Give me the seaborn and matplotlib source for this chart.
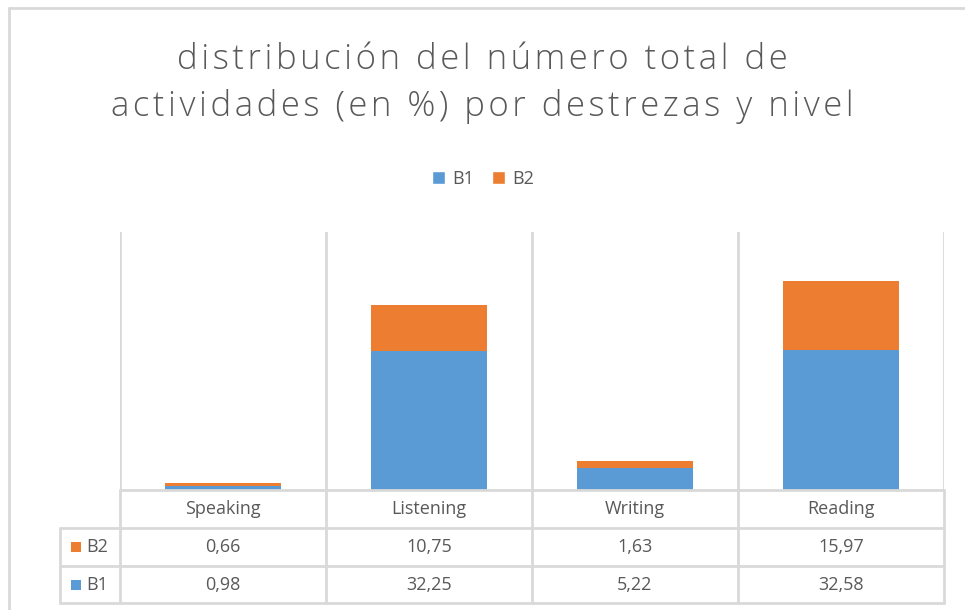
import numpy as np
import pandas as pd
import seaborn as sns
import matplotlib.pyplot as plt
from matplotlib.lines import Line2D
from matplotlib.patches import Rectangle

# data
destrezas = ['Speaking', 'Listening', 'Writing', 'Reading']
b1 = [0.98, 32.25, 5.22, 32.58]
b2 = [0.66, 10.75, 1.63, 15.97]
titulo = ['distribución del número total de', 'actividades (en %) por destrezas y nivel']

BLUE = '#5B9BD5'
ORANGE = '#ED7D31'
GRID = '#D9D9D9'
TXT = '#595959'

sns.set_theme(style='white')
plt.rcParams['font.family'] = ['Open Sans', 'DejaVu Sans']

W, H = 965, 610
fig = plt.figure(figsize=(W / 100, H / 100), dpi=100)


def fx(px):
    return px / W


def fy(py):
    return 1 - py / H


# plot area (pixel coords of reference)
left, right, top, bottom = 120, 944, 232, 490
ax = fig.add_axes([fx(left), fy(bottom), fx(right) - fx(left), fy(top) - fy(bottom)])

df = pd.DataFrame({'destreza': destrezas, 'B1': b1, 'B2': b2})
df['total'] = df['B1'] + df['B2']

# stacked: total in orange, B1 on top of it in blue
sns.barplot(data=df, x='destreza', y='total', color=ORANGE, width=0.56,
            saturation=1, ax=ax, edgecolor='none')
sns.barplot(data=df, x='destreza', y='B1', color=BLUE, width=0.56,
            saturation=1, ax=ax, edgecolor='none')

ax.set_xlim(-0.5, len(destrezas) - 0.5)
ax.set_ylim(0, 60)
ax.set_xlabel('')
ax.set_ylabel('')
ax.set_xticks([])
ax.set_yticks([])
for s in ax.spines.values():
    s.set_visible(False)

# category separators
for b in np.arange(-0.5, len(destrezas), 1.0):
    ax.axvline(b, color=GRID, lw=2, zorder=0)

# data table below the plot
col_edges = [left + i * (right - left) / len(destrezas) for i in range(len(destrezas) + 1)]
rows_y = [490, 528, 566, 603]
tbl_left = 60


def hline(y, x0, x1):
    fig.add_artist(Line2D([fx(x0), fx(x1)], [fy(y), fy(y)], color=GRID, lw=2))


def vline(x, y0, y1):
    fig.add_artist(Line2D([fx(x), fx(x)], [fy(y0), fy(y1)], color=GRID, lw=2))


hline(rows_y[0], left, right)
for y in rows_y[1:]:
    hline(y, tbl_left, right)
for x in col_edges:
    vline(x, rows_y[0], rows_y[-1])
vline(tbl_left, rows_y[1], rows_y[-1])

centers = [(col_edges[i] + col_edges[i + 1]) / 2 for i in range(len(destrezas))]
for cx, name in zip(centers, destrezas):
    fig.text(fx(cx), fy((rows_y[0] + rows_y[1]) / 2), name, ha='center', va='center',
             fontsize=13, color=TXT)

table_rows = [('B2', b2, ORANGE), ('B1', b1, BLUE)]
for (label, vals, col), y0, y1 in zip(table_rows, rows_y[1:-1], rows_y[2:]):
    cy = (y0 + y1) / 2
    fig.add_artist(Rectangle((fx(71), fy(cy + 5)), fx(10), fy(cy - 5) - fy(cy + 5),
                             facecolor=col, edgecolor='none', transform=fig.transFigure))
    fig.text(fx(86), fy(cy), label, ha='left', va='center', fontsize=13, color=TXT)
    for cx, v in zip(centers, vals):
        fig.text(fx(cx), fy(cy), f'{v:.2f}'.replace('.', ','), ha='center', va='center',
                 fontsize=13, color=TXT)

# legend
handles = [Rectangle((0, 0), 1, 1, facecolor=BLUE), Rectangle((0, 0), 1, 1, facecolor=ORANGE)]
fig.legend(handles, ['B1', 'B2'], loc='center', bbox_to_anchor=(fx(483), fy(179)),
           ncol=2, frameon=False, fontsize=13, handlelength=0.7, handleheight=0.7,
           handletextpad=0.4, columnspacing=1.0, labelcolor=TXT)

# title, with extra letter spacing (hair spaces between characters)
for line, ypx in zip(titulo, [60, 107]):
    spaced = '\u200a'.join(line)
    fig.text(0.5, fy(ypx), spaced, ha='center', va='center', fontsize=25,
             color=TXT, fontweight='light')

# outer chart border
fig.add_artist(Line2D([fx(9), fx(W)], [fy(8), fy(8)], color=GRID, lw=2))
fig.add_artist(Line2D([fx(9), fx(9)], [fy(8), fy(H)], color=GRID, lw=2))

fig.savefig('out.png', dpi=100, facecolor='white')
